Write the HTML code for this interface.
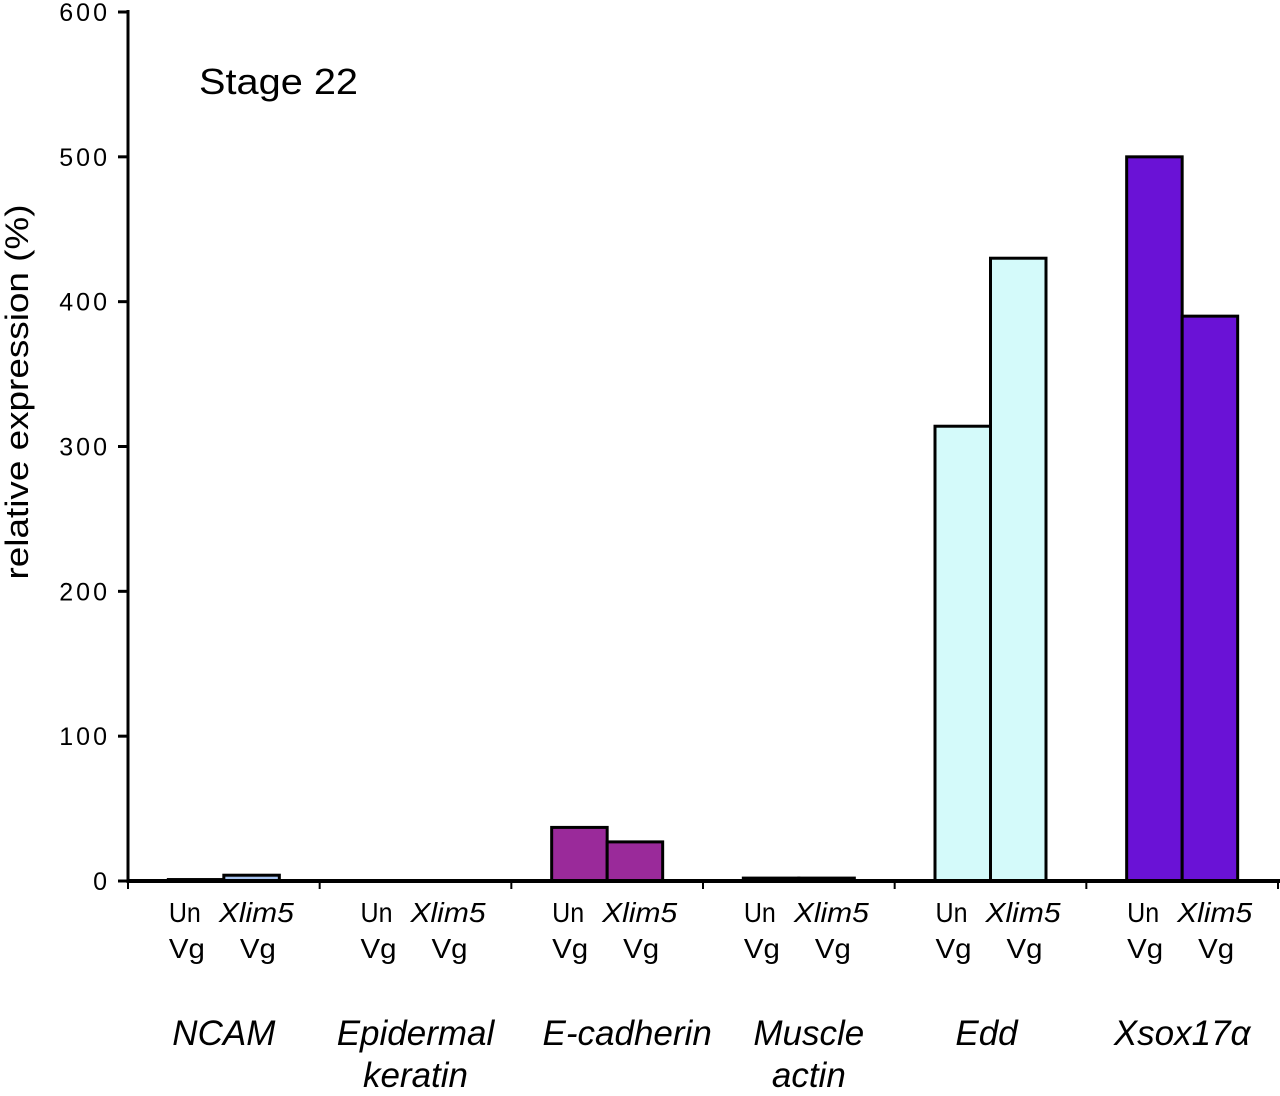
<!DOCTYPE html>
<html><head><meta charset="utf-8"><style>
html,body{margin:0;padding:0;background:#fff;}
svg text{font-family:"Liberation Sans",sans-serif;fill:#000;}
</style></head><body>
<svg id="chart" width="1280" height="1091" viewBox="0 0 1280 1091" xmlns="http://www.w3.org/2000/svg"></svg>
<script>
const categories1 = ["NCAM","Epidermal","E-cadherin","Muscle","Edd","Xsox17\u03b1"];
const categories2 = ["","keratin","","actin","",""];
const unVg = [1,0,37,2,314,500];
const xlimVg = [4,0,27,2,430,390];
const unColors = ["#000","#000","#9a2a9a","#000","#d4fafa","#6a12d6"];
const xlimColors = ["#a8c4f0","#000","#9a2a9a","#000","#d4fafa","#6a12d6"];
const yTicks = [0,100,200,300,400,500,600];

const svg = document.getElementById('chart');
const NS = 'http://www.w3.org/2000/svg';
const x0 = 128, x1 = 1278, yBase = 881, yTop = 12;
const yScale = v => yBase - v * (yBase - yTop) / 600;
const step = (x1 - x0) / categories1.length;
const catCenter = i => x0 + step * (i + 0.5);
const labelShift = [0,0,20,10,-4,0];
function mk(tag, attrs, parent){ const e=document.createElementNS(NS,tag); for(const k in attrs) e.setAttribute(k,attrs[k]); (parent||svg).appendChild(e); return e; }

categories1.forEach((c,i)=>{
  const cx = catCenter(i), w = 55.5;
  [[unVg[i],unColors[i],cx-w],[xlimVg[i],xlimColors[i],cx]].forEach((d,j)=>{
    if(d[0]<=0) return;
    const y = yScale(d[0]);
    const r = mk('rect',{x:d[2],y:y,width:w,height:yBase-y,fill:d[1],stroke:'#000','stroke-width':3});
    
    
  });
});

const ya = mk('line',{x1:x0,y1:yTop-2,x2:x0,y2:yBase+2,stroke:'#000','stroke-width':3});


yTicks.forEach(t=>{
  const y = yScale(t);
  mk('line',{x1:118,y1:y,x2:x0,y2:y,stroke:'#000','stroke-width':3});
  const tx = mk('text',{x:110,y:y+9,'text-anchor':'end','font-size':25,'letter-spacing':'3'});
  tx.textContent = t;
  
  
});
const xa = mk('line',{x1:x0,y1:yBase,x2:x1+2,y2:yBase,stroke:'#000','stroke-width':4});


for(let i=0;i<=categories1.length;i++){
  const x = x0 + step*i;
  mk('line',{x1:x,y1:yBase,x2:x,y2:yBase+8,stroke:'#000','stroke-width':2});
}
categories1.forEach((c,i)=>{
  const cx = catCenter(i);
  const g = mk('g',{});
  
  
  mk('text',{x:cx-55,y:922,'font-size':28,textLength:32,lengthAdjust:'spacingAndGlyphs'},g).textContent='Un';
  mk('text',{x:cx-5,y:922,'font-size':28,'font-style':'italic',textLength:75,lengthAdjust:'spacingAndGlyphs'},g).textContent='Xlim5';
  mk('text',{x:cx-55,y:958,'font-size':28,textLength:36,lengthAdjust:'spacingAndGlyphs'},g).textContent='Vg';
  mk('text',{x:cx+16,y:958,'font-size':28,textLength:36,lengthAdjust:'spacingAndGlyphs'},g).textContent='Vg';
  const lx = cx + labelShift[i];
  mk('text',{x:lx,y:1045,'font-size':35,'font-style':'italic','text-anchor':'middle'},g).textContent=c;
  if(categories2[i]) mk('text',{x:lx,y:1087,'font-size':35,'font-style':'italic','text-anchor':'middle'},g).textContent=categories2[i];
});
const st = mk('text',{x:199,y:94,'font-size':36,textLength:159,lengthAdjust:'spacingAndGlyphs'});
st.textContent='Stage 22';


const yt = mk('text',{x:0,y:0,'font-size':32,'text-anchor':'middle',textLength:375,lengthAdjust:'spacingAndGlyphs',transform:'translate(28,392) rotate(-90)'});
yt.textContent='relative expression (%)';


</script>
</body></html>
